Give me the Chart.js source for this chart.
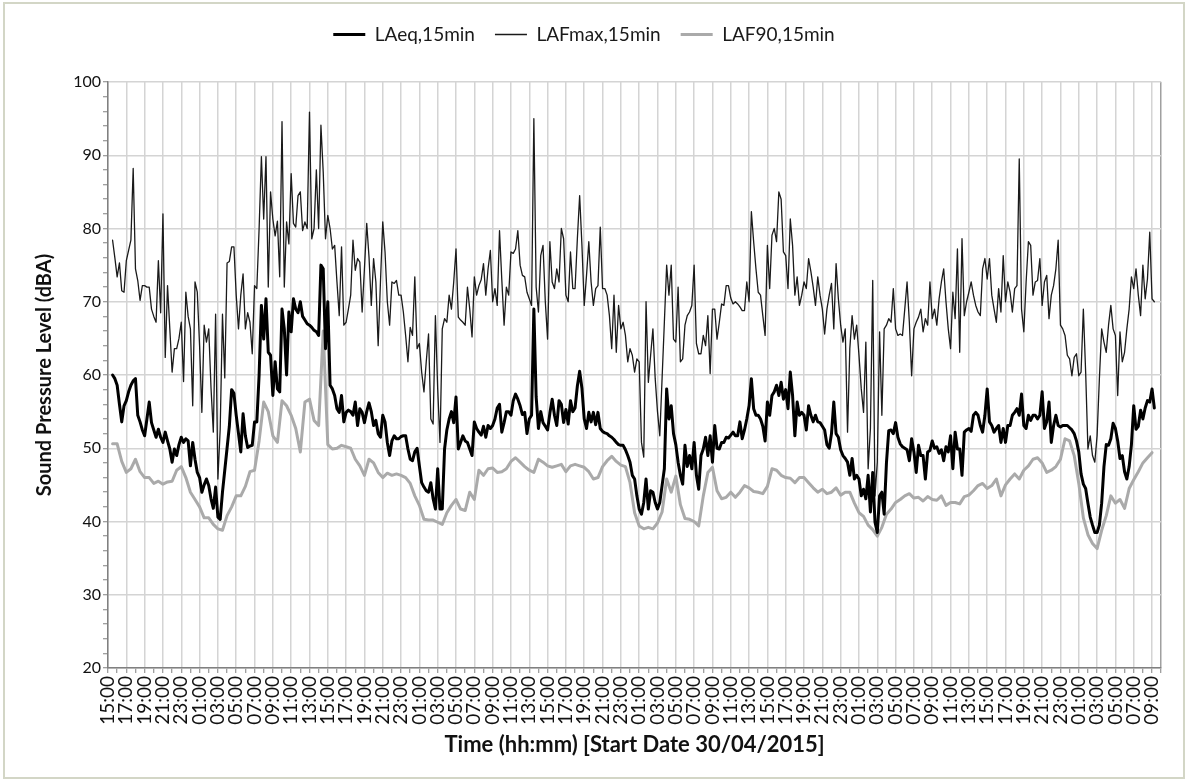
<!DOCTYPE html>
<html>
<head>
<meta charset="utf-8">
<script src="https://cdn.jsdelivr.net/npm/chart.js@4.4.1/dist/chart.umd.min.js"></script>
<style>
  html, body { margin: 0; padding: 0; background: #fff; }
  #wrap { position: relative; width: 1187px; height: 779px; }
  #frame { position: absolute; left: 3px; top: 2px; width: 1178px; height: 773px; border: 2px solid #d3d6c6; pointer-events: none; }
</style>
</head>
<body>
<div id="wrap">
  <canvas id="chart" width="1187" height="779"></canvas>
  <div id="frame"></div>
</div>
<script>
// hours after 15:00 on 30/04/2015; first reading at 15:30
var START = 0.5

// tick labels, one every 2 hours
var timeLabels = [
  '15:00','17:00','19:00','21:00','23:00','01:00','03:00','05:00','07:00','09:00','11:00','13:00',
  '15:00','17:00','19:00','21:00','23:00','01:00','03:00','05:00','07:00','09:00','11:00','13:00',
  '15:00','17:00','19:00','21:00','23:00','01:00','03:00','05:00','07:00','09:00','11:00','13:00',
  '15:00','17:00','19:00','21:00','23:00','01:00','03:00','05:00','07:00','09:00','11:00','13:00',
  '15:00','17:00','19:00','21:00','23:00','01:00','03:00','05:00','07:00','09:00'
]

// LAFmax, every 15 min (one row = 2 hours)
var lafmax = [
  78.4, 76, 73.4, 75.3, 71.5, 71.3,
  75.6, 77, 78.4, 88.2, 74.5, 72.9, 70.2, 72.2,
  72.2, 72, 72, 69, 68, 67.2, 75.6, 68.5,
  82, 62.4, 72.2, 66.3, 60.4, 63.6, 63.6, 65,
  67.2, 59.1, 71.3, 68, 66.3, 55.8, 72.7, 71.3,
  64, 54.9, 66.8, 64.5, 66.3, 58.2, 52.2, 68.3,
  45.8, 52.6, 68.3, 59.6, 75.3, 75.5, 77.5, 77.5,
  70.9, 66.3, 70.9, 73.8, 66.3, 68.5, 67.2, 62.9,
  72.2, 71.8, 80, 89.8, 81.3, 89.8, 72, 85,
  81.3, 79, 81, 73.4, 94.6, 72, 80.9, 77.9,
  87.5, 80.7, 80.2, 84.5, 85, 79.7, 80.9, 80,
  95.9, 78.6, 80, 88, 80, 94.1, 87.7, 78.6,
  81.8, 80, 77.2, 77.7, 72.7, 68.1, 77.5, 66.8,
  67.2, 69, 70.9, 78.4, 74.3, 75.9, 75.4, 68.6,
  74.5, 80.7, 76.1, 69.5, 75.9, 72.7, 64, 72.7,
  80.9, 76.8, 70, 66.8, 72.7, 72.5, 72.9, 70.9,
  70.9, 68.6, 65.4, 61.8, 66.5, 65.4, 73.4, 63.6,
  64.3, 60.4, 57.7, 61.8, 65.6, 54, 53.3, 68.1,
  58.1, 50.8, 66.3, 67.7, 67.2, 70.9, 69, 72.7,
  77.2, 67.9, 67.5, 67.2, 66.8, 72, 69, 65.2,
  73.4, 70.9, 72.2, 73, 75.2, 70.9, 74.5, 77,
  70, 71.8, 69.5, 79.7, 73, 66.8, 72, 70.9,
  76.8, 76.6, 77.2, 79.7, 75, 73.6, 73.4, 71.3,
  70.4, 69.5, 95, 72, 68.6, 76.3, 77.7, 70,
  64.9, 78.2, 72.7, 71.8, 74.5, 72.7, 80, 78.6,
  70.9, 70, 76.8, 71.8, 71.8, 78.6, 84.5, 77.7,
  69.5, 73.6, 78.2, 72.7, 69.5, 71.8, 72.2, 80.2,
  71.8, 71.8, 70.9, 68.1, 63.6, 70.9, 63.1, 69.5,
  66.3, 67.2, 65.4, 61.8, 63.6, 62.7, 60.4, 62.2,
  61.8, 50.8, 48.8, 70, 59, 62.7, 66.3, 59.5,
  55, 51.7, 59.5, 67.2, 75, 70.9, 75, 64.9,
  64.5, 72, 61.8, 62.2, 66.8, 68.1, 68.6, 69.5,
  75, 64.3, 62.9, 62.9, 65.4, 64, 68.1, 60.2,
  69, 69, 64.9, 67.2, 69.7, 69.5, 72.2, 72.2,
  70.5, 69.7, 70, 69.7, 69.3, 68.8, 68.8, 72.7,
  70, 82.3, 78.2, 74.5, 71.3, 70.9, 68.1, 65.4,
  77.7, 71.8, 79.1, 80, 78.2, 85, 84, 76.8,
  76.3, 71.8, 81.3, 77.7, 70.9, 73.4, 69.5, 70.9,
  72.7, 71.8, 75.9, 74.1, 72, 69.5, 73.4, 70.9,
  69, 65.6, 69, 70.9, 72.5, 66.3, 75.2, 70.4,
  66.8, 64.5, 66.3, 52.2, 63.6, 68.1, 64.9, 66.8,
  62.7, 58.1, 54.9, 64.5, 47.2, 52.7, 72.9, 43.5,
  48.1, 65.9, 54.5, 66.3, 66.8, 67.7, 67.2, 71.8,
  66.3, 65.4, 65.6, 65.4, 69, 72.7, 67.2, 59.9,
  66.3, 67.2, 67.9, 69, 65.9, 67.7, 66.8, 72.7,
  67.7, 69, 66.8, 70.4, 72.7, 74.5, 70, 66.3,
  63.6, 71.3, 67.7, 77.2, 63.1, 78.6, 68.1, 70,
  71.3, 72.7, 70.9, 69.5, 68.6, 68.1, 74.5, 75.9,
  73.1, 75.9, 70.9, 69, 67.2, 71.8, 68.6, 76.3,
  70, 72.7, 71.3, 68.6, 71.8, 72.2, 89.5, 69,
  65.9, 72.7, 78.2, 77.7, 70.9, 72.7, 72.9, 75.9,
  69.5, 72.7, 73.6, 67.7, 70.9, 72.2, 74.5, 78.4,
  66.8, 66.3, 65.4, 62.7, 62.2, 59.9, 62.4, 62.9,
  59.9, 60.4, 69, 60.4, 49.9, 51.7, 49, 48.1,
  51.7, 59.5, 66.3, 64.5, 63.1, 66.8, 69.5, 66.3,
  65.4, 57.2, 65.9, 61.8, 63.1, 66.3, 69, 73.4,
  71.8, 74.5, 70.9, 68.1, 75, 70.4, 73.1, 79.5,
  70.4, 70
]

// LAeq, every 15 min (one row = 2 hours)
var laeq = [
  60, 59.5, 58.6, 56, 53.6, 55.8,
  56.5, 57.7, 58.6, 59.2, 59.5, 54.5, 53.6, 52.5,
  51.7, 54, 56.3, 53.5, 52.5, 51.5, 52.6, 51.5,
  50.8, 52.2, 51, 49.9, 48.1, 49.9, 49, 50.5,
  51.5, 50.8, 51.3, 51, 47.6, 50.8, 48.5, 46.7,
  46, 44, 45, 45.8, 44.9, 43.1, 41.8, 44.7,
  40.6, 40.3, 44, 47, 50, 53, 58, 57.5,
  54.5, 52, 49.5, 54.7, 51.7, 50.1, 50.3, 50.4,
  53.6, 53.6, 60, 69.5, 64.9, 70.4, 63.1, 62.7,
  57.2, 61.8, 58.1, 57.7, 69, 66.3, 60, 68.6,
  65.9, 70.4, 69, 68.5, 70, 68, 67.5, 67,
  66.8, 66.5, 66.1, 65.9, 65.4, 75, 74.5, 63.6,
  70, 58.6, 58.1, 57.2, 55.4, 54.9, 57.2, 53.6,
  54.9, 55.2, 55, 54.5, 56.3, 53.1, 55.4, 54.9,
  53.5, 55, 56.2, 55, 53.1, 53.8, 52, 51.5,
  54.5, 53.6, 50.8, 49, 51, 51.7, 51.3, 51.3,
  51.6, 51.7, 51.7, 49.9, 48.5, 48.3, 49.5, 50,
  47.6, 45.3, 44.7, 44.2, 44, 45.3, 43.1, 41.7,
  47.2, 41.7, 41.7, 49.9, 52.5, 54, 55, 53.5,
  57, 49.9, 50.8, 51.7, 51, 50.8, 49.9, 49,
  53.6, 52.7, 52.2, 51.8, 53, 51.5, 53.1, 52.7,
  53.1, 54, 55.5, 56, 52.2, 53.5, 55, 55,
  54.5, 56.5, 57.4, 56.7, 55.8, 54.6, 54.9, 52,
  54, 54.5, 69, 57, 52.7, 55, 53.5, 53,
  52.5, 54.8, 56.7, 54.5, 53.1, 56.5, 56, 53.5,
  55.3, 53.3, 56.5, 55, 55.5, 58.5, 60.5, 58.2,
  54, 52.7, 54.9, 53.6, 54.9, 53.2, 54.9, 52.7,
  52.3, 52.1, 52, 51.7, 51.5, 51.2, 50.8, 50.5,
  50.4, 50.4, 49.8, 49, 48.1, 46.3, 45.8, 43.5,
  41.7, 41, 42.6, 45.8, 41.7, 44.2, 44, 42.6,
  41.7, 42.6, 44.9, 47.2, 58.1, 54, 55.8, 52,
  50.5, 48.1, 46.3, 45.1, 50.4, 47.5, 49, 47.2,
  50.8, 46.3, 44.4, 49, 49.9, 51.5, 49, 51.7,
  48.1, 53.1, 50, 49.9, 50.8, 50.8, 51.5, 51.4,
  51.8, 52.2, 51.7, 51.7, 53.6, 51.3, 52.5, 54,
  55.8, 59.5, 55.4, 54.5, 54.5, 54, 53, 51,
  56.3, 54.5, 57.2, 57.7, 58.6, 57.2, 59, 56.7,
  58, 55.4, 60.4, 57.2, 51.7, 56.3, 54.5, 54.9,
  54.5, 52.5, 55.8, 54.5, 53.6, 54.5, 53.6, 53.5,
  53, 52.5, 50.5, 50, 52, 56.3, 52, 51.5,
  49.8, 49, 48.6, 48.1, 46.3, 48.6, 45.8, 46.3,
  45.8, 43.5, 44.4, 43.1, 46.3, 41.3, 46.7, 39.9,
  38.5, 43.5, 44, 41, 48, 52.4, 52.5, 52,
  53.5, 51.5, 50.6, 50.2, 50, 49.8, 48.3, 51.3,
  49.5, 46.7, 50.4, 49, 49, 45.8, 49.5, 49.7,
  51, 50, 50.2, 49.3, 49.8, 48.3, 50.2, 49.5,
  51.7, 47.2, 52.2, 49.9, 49.9, 46.3, 52.2, 52.5,
  52.7, 52.3, 54.5, 54.9, 54.5, 53.1, 52.2, 54.5,
  58.1, 53.6, 53.1, 52.2, 52.7, 53.1, 50.8, 52.7,
  50.8, 53.1, 53.1, 54.5, 54.9, 55.4, 54.5, 57.4,
  53.1, 52.7, 54.5, 53.8, 54.5, 54.5, 54, 54.5,
  57.7, 52.7, 53.6, 56.3, 50.8, 53.1, 54.5, 53.1,
  52.9, 53.1, 53.1, 53.1, 52.8, 52.5, 52, 51,
  49.5, 46.5, 45.1, 44.5, 42.5, 40.6, 39.5, 38.5,
  38.5, 39.5, 42.5, 47.5, 50.5, 50.4, 51.3, 53.4,
  52.7, 51, 48.6, 49, 46.8, 45.8, 47.5, 50.5,
  55.8, 52.6, 53, 55.2, 54, 55.5, 56.5, 56.3,
  58.1, 55.5
]

// LAF90, every 30 min (one row = 4 hours)
var laf90 = [
  50.6, 50.6, 48.2,
  46.7, 47.2, 48.5, 46.8,   46, 46, 45.2, 45.5,
  45.1, 45.4, 45.5, 47,     47.5, 46, 44, 43,
  42, 40.5, 40.5, 39.6,     39, 38.8, 40.8, 42,
  43.5, 43.5, 44.8, 46.8,   47, 51, 56.3, 55,
  51.7, 50.8, 56.5, 55.8,   54.5, 52.7, 49.5, 56.3,
  56.7, 53.8, 53.1, 66,     50.5, 49.9, 50, 50.4,
  50.2, 50, 48.5, 47.6,     46.3, 48.5, 48, 46.7,
  46, 46.6, 46.3, 46.5,     46.3, 46, 45.2, 43.5,
  42.2, 40.3, 40.2, 40.2,   39.9, 39.6, 41.2, 42.2,
  43, 41.7, 41.5, 44,       43, 47, 46.3, 47.2,
  47.3, 46.7, 46.8, 47.2,   48.2, 48.7, 48.1, 47.5,
  47, 46.7, 48.5, 48.1,     47.6, 47.4, 47.6, 47.8,
  46.8, 47.6, 47.8, 47.6,   47.4, 46.8, 45.8, 46,
  47.5, 48.3, 48.9, 48.2,   47.7, 47.5, 45.3, 41.2,
  39.4, 39, 39.2, 39,       39.8, 41.3, 45.8, 44,
  46.2, 42.3, 40.4, 40.3,   40, 39.4, 43.5, 46.7,
  47.4, 44.2, 43.1, 43.3,   44, 43.3, 44, 44.9,
  44.6, 44.1, 44, 43.8,     44.8, 47.2, 47, 46.3,
  46, 45.9, 45.3, 46,       46, 45.3, 44.6, 44,
  44.4, 43.8, 44, 44.6,     43.6, 44, 44, 42.5,
  41.2, 40.7, 39.5, 38.9,   38, 39.2, 41, 41.7,
  42.6, 43, 43.5, 43.8,     43.2, 43.3, 42.8, 43.4,
  43, 42.9, 43.5, 42.2,     42.6, 42.6, 42.4, 43.4,
  43.6, 44.2, 44.9, 45.2,   44.5, 44.9, 45.8, 43.5,
  45, 45.8, 46.5, 45.8,     47, 47.6, 48.5, 48.7,
  48, 46.7, 47, 47.5,       48.5, 51.3, 51, 49,
  45.2, 40.5, 38.2, 37,     36.3, 38.8, 40.8, 43.5,
  42.5, 43, 41.8, 44.5,     45.7, 46.8, 48, 48.7,
  49.4
]

function toPoints(arr, step) {
  return arr.map(function (v, i) { return { x: START + i * step, y: v } })
}

// push the plot area down below the legend
var legendGap = {
  id: 'legendGap',
  beforeInit: function (chart) {
    var fit = chart.legend.fit
    chart.legend.fit = function () {
      fit.call(this)
      this.height += 28
    }
  }
}

Chart.defaults.font.family = 'Lato, "DejaVu Sans", sans-serif'
Chart.defaults.color = '#1a1a1a'

new Chart(document.getElementById('chart'), {
  type: 'line',
  data: {
    datasets: [
      { label: 'LAeq,15min', data: toPoints(laeq, 0.25), borderColor: '#000', borderWidth: 3 },
      { label: 'LAFmax,15min', data: toPoints(lafmax, 0.25), borderColor: '#1a1a1a', borderWidth: 1.3 },
      { label: 'LAF90,15min', data: toPoints(laf90, 0.5), borderColor: '#aaaaaa', borderWidth: 3 }
    ]
  },
  options: {
    responsive: false,
    animation: false,
    elements: {
      point: { radius: 0 },
      line: { tension: 0, borderJoinStyle: 'round', borderCapStyle: 'round' }
    },
    layout: { padding: { top: 5, right: 19, left: 0, bottom: 0 } },
    plugins: {
      legend: {
        position: 'top',
        labels: {
          usePointStyle: true,
          pointStyle: 'line',
          pointStyleWidth: 32,
          boxWidth: 32,
          padding: 20,
          color: '#1a1a1a',
          font: { size: 19 }
        }
      },
      tooltip: { enabled: false }
    },
    scales: {
      x: {
        type: 'linear',
        min: 0,
        max: 115,
        afterFit: function (s) { s.height = 111 },
        ticks: {
          stepSize: 1,
          autoSkip: false,
          minRotation: 90,
          maxRotation: 90,
          padding: 3,
          color: '#111',
          font: { size: 19 },
          callback: function (v) { return v % 2 === 0 ? timeLabels[v / 2] : '' }
        },
        grid: {
          color: function (c) {
            if (c.tick.value === 115) return '#a0a0a0'
            return c.tick.value % 2 === 0 ? '#d4d4d4' : 'rgba(0,0,0,0)'
          },
          lineWidth: 1.5,
          tickColor: '#808080',
          tickWidth: 1,
          tickLength: 5
        },
        border: { color: '#808080', width: 1.5 },
        title: {
          display: true,
          text: 'Time (hh:mm) [Start Date 30/04/2015]',
          color: '#111',
          font: { size: 22, weight: 'bold' },
          padding: { top: 0, bottom: 21 }
        }
      },
      y: {
        min: 20,
        max: 100,
        afterFit: function (s) { s.width = 108 },
        ticks: {
          stepSize: 2,
          autoSkip: false,
          padding: 2,
          color: '#111',
          font: { size: 16 },
          callback: function (v) { return v % 10 === 0 ? v : '' }
        },
        grid: {
          color: function (c) { return c.tick.value % 10 === 0 ? '#d4d4d4' : 'rgba(0,0,0,0)' },
          lineWidth: 1.5,
          tickColor: '#808080',
          tickWidth: 1,
          tickLength: 5
        },
        border: { color: '#808080', width: 1.5 },
        title: {
          display: true,
          text: 'Sound Pressure Level (dBA)',
          color: '#111',
          font: { size: 20, weight: 'bold' },
          padding: { top: 33, bottom: 0 }
        }
      }
    }
  },
  plugins: [legendGap]
})
</script>
</body>
</html>
